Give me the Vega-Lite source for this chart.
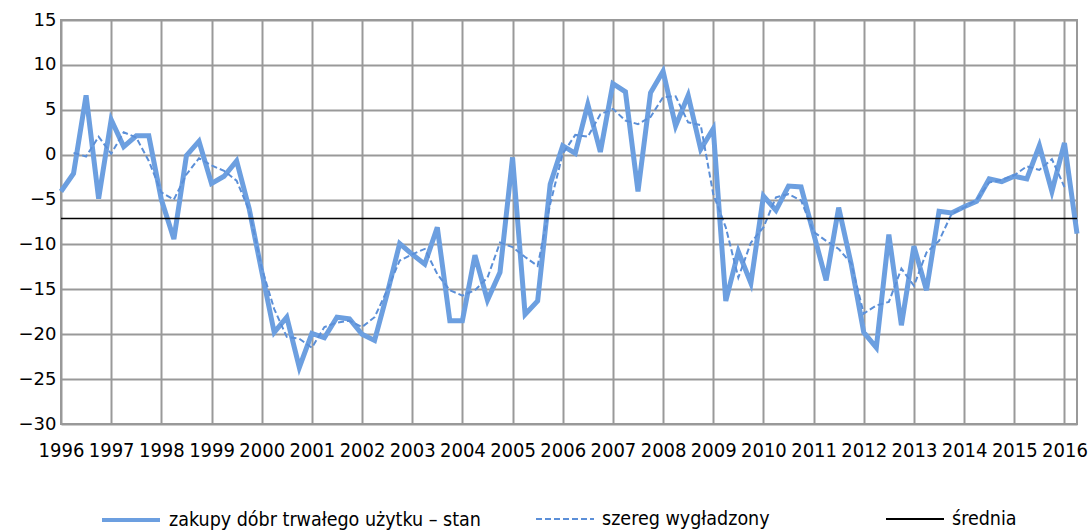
{
  "$schema": "https://vega.github.io/schema/vega-lite/v6.json",
  "autosize": {"type": "none"},
  "width": 1016,
  "height": 404,
  "padding": {"left": 61, "top": 20, "right": 15, "bottom": 108},
  "config": {
    "font": "DejaVu Sans",
    "view": {"stroke": "#999999", "strokeWidth": 2},
    "axis": {"labelFont": "DejaVu Sans", "labelFontSize": 18, "labelColor": "#000000", "ticks": false, "domain": false, "gridColor": "#999999", "gridWidth": 2, "gridOpacity": 1, "title": null},
    "legend": {"title": null, "orient": "none", "direction": "horizontal", "symbolType": "stroke", "symbolSize": 3364, "labelFont": "DejaVu Sans Condensed", "labelFontSize": 19.5, "labelColor": "#000000", "labelLimit": 500, "labelOffset": 7, "legendY": 469, "padding": 0}
  },
  "resolve": {"scale": {"color": "independent"}, "legend": {"color": "independent"}},
  "datasets": {
    "main": [
      {"s": "zakupy dóbr trwałego użytku – stan", "t": 1996.0, "v": -4.1},
      {"s": "zakupy dóbr trwałego użytku – stan", "t": 1996.25, "v": -2.1},
      {"s": "zakupy dóbr trwałego użytku – stan", "t": 1996.5, "v": 6.6},
      {"s": "zakupy dóbr trwałego użytku – stan", "t": 1996.75, "v": -4.9},
      {"s": "zakupy dóbr trwałego użytku – stan", "t": 1997.0, "v": 3.9},
      {"s": "zakupy dóbr trwałego użytku – stan", "t": 1997.25, "v": 0.9},
      {"s": "zakupy dóbr trwałego użytku – stan", "t": 1997.5, "v": 2.1},
      {"s": "zakupy dóbr trwałego użytku – stan", "t": 1997.75, "v": 2.1},
      {"s": "zakupy dóbr trwałego użytku – stan", "t": 1998.0, "v": -5.0},
      {"s": "zakupy dóbr trwałego użytku – stan", "t": 1998.25, "v": -9.4},
      {"s": "zakupy dóbr trwałego użytku – stan", "t": 1998.5, "v": -0.1},
      {"s": "zakupy dóbr trwałego użytku – stan", "t": 1998.75, "v": 1.5},
      {"s": "zakupy dóbr trwałego użytku – stan", "t": 1999.0, "v": -3.2},
      {"s": "zakupy dóbr trwałego użytku – stan", "t": 1999.25, "v": -2.4},
      {"s": "zakupy dóbr trwałego użytku – stan", "t": 1999.5, "v": -0.7},
      {"s": "zakupy dóbr trwałego użytku – stan", "t": 1999.75, "v": -6.0},
      {"s": "zakupy dóbr trwałego użytku – stan", "t": 2000.0, "v": -13.0},
      {"s": "zakupy dóbr trwałego użytku – stan", "t": 2000.25, "v": -19.8},
      {"s": "zakupy dóbr trwałego użytku – stan", "t": 2000.5, "v": -18.1},
      {"s": "zakupy dóbr trwałego użytku – stan", "t": 2000.75, "v": -23.7},
      {"s": "zakupy dóbr trwałego użytku – stan", "t": 2001.0, "v": -19.9},
      {"s": "zakupy dóbr trwałego użytku – stan", "t": 2001.25, "v": -20.4},
      {"s": "zakupy dóbr trwałego użytku – stan", "t": 2001.5, "v": -18.1},
      {"s": "zakupy dóbr trwałego użytku – stan", "t": 2001.75, "v": -18.3},
      {"s": "zakupy dóbr trwałego użytku – stan", "t": 2002.0, "v": -20.0},
      {"s": "zakupy dóbr trwałego użytku – stan", "t": 2002.25, "v": -20.7},
      {"s": "zakupy dóbr trwałego użytku – stan", "t": 2002.5, "v": -15.5},
      {"s": "zakupy dóbr trwałego użytku – stan", "t": 2002.75, "v": -9.9},
      {"s": "zakupy dóbr trwałego użytku – stan", "t": 2003.0, "v": -11.1},
      {"s": "zakupy dóbr trwałego użytku – stan", "t": 2003.25, "v": -12.2},
      {"s": "zakupy dóbr trwałego użytku – stan", "t": 2003.5, "v": -8.1},
      {"s": "zakupy dóbr trwałego użytku – stan", "t": 2003.75, "v": -18.5},
      {"s": "zakupy dóbr trwałego użytku – stan", "t": 2004.0, "v": -18.5},
      {"s": "zakupy dóbr trwałego użytku – stan", "t": 2004.25, "v": -11.2},
      {"s": "zakupy dóbr trwałego użytku – stan", "t": 2004.5, "v": -16.2},
      {"s": "zakupy dóbr trwałego użytku – stan", "t": 2004.75, "v": -13.1},
      {"s": "zakupy dóbr trwałego użytku – stan", "t": 2005.0, "v": -0.3},
      {"s": "zakupy dóbr trwałego użytku – stan", "t": 2005.25, "v": -17.8},
      {"s": "zakupy dóbr trwałego użytku – stan", "t": 2005.5, "v": -16.3},
      {"s": "zakupy dóbr trwałego użytku – stan", "t": 2005.75, "v": -3.3},
      {"s": "zakupy dóbr trwałego użytku – stan", "t": 2006.0, "v": 1.0},
      {"s": "zakupy dóbr trwałego użytku – stan", "t": 2006.25, "v": 0.15},
      {"s": "zakupy dóbr trwałego użytku – stan", "t": 2006.5, "v": 5.6},
      {"s": "zakupy dóbr trwałego użytku – stan", "t": 2006.75, "v": 0.3},
      {"s": "zakupy dóbr trwałego użytku – stan", "t": 2007.0, "v": 7.9},
      {"s": "zakupy dóbr trwałego użytku – stan", "t": 2007.25, "v": 7.0},
      {"s": "zakupy dóbr trwałego użytku – stan", "t": 2007.5, "v": -4.1},
      {"s": "zakupy dóbr trwałego użytku – stan", "t": 2007.75, "v": 6.9},
      {"s": "zakupy dóbr trwałego użytku – stan", "t": 2008.0, "v": 9.3},
      {"s": "zakupy dóbr trwałego użytku – stan", "t": 2008.25, "v": 3.2},
      {"s": "zakupy dóbr trwałego użytku – stan", "t": 2008.5, "v": 6.6},
      {"s": "zakupy dóbr trwałego użytku – stan", "t": 2008.75, "v": 0.6},
      {"s": "zakupy dóbr trwałego użytku – stan", "t": 2009.0, "v": 2.9},
      {"s": "zakupy dóbr trwałego użytku – stan", "t": 2009.25, "v": -16.3},
      {"s": "zakupy dóbr trwałego użytku – stan", "t": 2009.5, "v": -10.8},
      {"s": "zakupy dóbr trwałego użytku – stan", "t": 2009.75, "v": -14.3},
      {"s": "zakupy dóbr trwałego użytku – stan", "t": 2010.0, "v": -4.6},
      {"s": "zakupy dóbr trwałego użytku – stan", "t": 2010.25, "v": -6.2},
      {"s": "zakupy dóbr trwałego użytku – stan", "t": 2010.5, "v": -3.5},
      {"s": "zakupy dóbr trwałego użytku – stan", "t": 2010.75, "v": -3.6},
      {"s": "zakupy dóbr trwałego użytku – stan", "t": 2011.0, "v": -8.8},
      {"s": "zakupy dóbr trwałego użytku – stan", "t": 2011.25, "v": -14.0},
      {"s": "zakupy dóbr trwałego użytku – stan", "t": 2011.5, "v": -5.9},
      {"s": "zakupy dóbr trwałego użytku – stan", "t": 2011.75, "v": -12.2},
      {"s": "zakupy dóbr trwałego użytku – stan", "t": 2012.0, "v": -19.8},
      {"s": "zakupy dóbr trwałego użytku – stan", "t": 2012.25, "v": -21.5},
      {"s": "zakupy dóbr trwałego użytku – stan", "t": 2012.5, "v": -8.9},
      {"s": "zakupy dóbr trwałego użytku – stan", "t": 2012.75, "v": -19.0},
      {"s": "zakupy dóbr trwałego użytku – stan", "t": 2013.0, "v": -10.2},
      {"s": "zakupy dóbr trwałego użytku – stan", "t": 2013.25, "v": -15.1},
      {"s": "zakupy dóbr trwałego użytku – stan", "t": 2013.5, "v": -6.3},
      {"s": "zakupy dóbr trwałego użytku – stan", "t": 2013.75, "v": -6.5},
      {"s": "zakupy dóbr trwałego użytku – stan", "t": 2014.0, "v": -5.8},
      {"s": "zakupy dóbr trwałego użytku – stan", "t": 2014.25, "v": -5.2},
      {"s": "zakupy dóbr trwałego użytku – stan", "t": 2014.5, "v": -2.7},
      {"s": "zakupy dóbr trwałego użytku – stan", "t": 2014.75, "v": -3.0},
      {"s": "zakupy dóbr trwałego użytku – stan", "t": 2015.0, "v": -2.4},
      {"s": "zakupy dóbr trwałego użytku – stan", "t": 2015.25, "v": -2.7},
      {"s": "zakupy dóbr trwałego użytku – stan", "t": 2015.5, "v": 1.0},
      {"s": "zakupy dóbr trwałego użytku – stan", "t": 2015.75, "v": -4.1},
      {"s": "zakupy dóbr trwałego użytku – stan", "t": 2016.0, "v": 1.3},
      {"s": "zakupy dóbr trwałego użytku – stan", "t": 2016.25, "v": -8.8}
    ],
    "smooth": [
      {"s": "szereg wygładzony", "t": 1996.25, "v": 0.2},
      {"s": "szereg wygładzony", "t": 1996.5, "v": -0.2},
      {"s": "szereg wygładzony", "t": 1996.75, "v": 2.0},
      {"s": "szereg wygładzony", "t": 1997.0, "v": 0.1},
      {"s": "szereg wygładzony", "t": 1997.25, "v": 2.5},
      {"s": "szereg wygładzony", "t": 1997.5, "v": 1.9},
      {"s": "szereg wygładzony", "t": 1997.75, "v": -0.7},
      {"s": "szereg wygładzony", "t": 1998.0, "v": -4.2},
      {"s": "szereg wygładzony", "t": 1998.25, "v": -5.0},
      {"s": "szereg wygładzony", "t": 1998.5, "v": -2.2},
      {"s": "szereg wygładzony", "t": 1998.75, "v": -0.4},
      {"s": "szereg wygładzony", "t": 1999.0, "v": -1.2},
      {"s": "szereg wygładzony", "t": 1999.25, "v": -1.8},
      {"s": "szereg wygładzony", "t": 1999.5, "v": -2.9},
      {"s": "szereg wygładzony", "t": 1999.75, "v": -6.2},
      {"s": "szereg wygładzony", "t": 2000.0, "v": -12.6},
      {"s": "szereg wygładzony", "t": 2000.25, "v": -17.2},
      {"s": "szereg wygładzony", "t": 2000.5, "v": -20.3},
      {"s": "szereg wygładzony", "t": 2000.75, "v": -20.5},
      {"s": "szereg wygładzony", "t": 2001.0, "v": -21.5},
      {"s": "szereg wygładzony", "t": 2001.25, "v": -19.2},
      {"s": "szereg wygładzony", "t": 2001.5, "v": -18.7},
      {"s": "szereg wygładzony", "t": 2001.75, "v": -18.5},
      {"s": "szereg wygładzony", "t": 2002.0, "v": -19.2},
      {"s": "szereg wygładzony", "t": 2002.25, "v": -18.1},
      {"s": "szereg wygładzony", "t": 2002.5, "v": -15.1},
      {"s": "szereg wygładzony", "t": 2002.75, "v": -11.8},
      {"s": "szereg wygładzony", "t": 2003.0, "v": -11.1},
      {"s": "szereg wygładzony", "t": 2003.25, "v": -10.5},
      {"s": "szereg wygładzony", "t": 2003.5, "v": -13.3},
      {"s": "szereg wygładzony", "t": 2003.75, "v": -15.1},
      {"s": "szereg wygładzony", "t": 2004.0, "v": -15.7},
      {"s": "szereg wygładzony", "t": 2004.25, "v": -15.1},
      {"s": "szereg wygładzony", "t": 2004.5, "v": -13.7},
      {"s": "szereg wygładzony", "t": 2004.75, "v": -9.8},
      {"s": "szereg wygładzony", "t": 2005.0, "v": -10.3},
      {"s": "szereg wygładzony", "t": 2005.25, "v": -11.4},
      {"s": "szereg wygładzony", "t": 2005.5, "v": -12.4},
      {"s": "szereg wygładzony", "t": 2005.75, "v": -5.5},
      {"s": "szereg wygładzony", "t": 2006.0, "v": 0.1},
      {"s": "szereg wygładzony", "t": 2006.25, "v": 2.2},
      {"s": "szereg wygładzony", "t": 2006.5, "v": 2.0},
      {"s": "szereg wygładzony", "t": 2006.75, "v": 4.5},
      {"s": "szereg wygładzony", "t": 2007.0, "v": 5.1},
      {"s": "szereg wygładzony", "t": 2007.25, "v": 3.8},
      {"s": "szereg wygładzony", "t": 2007.5, "v": 3.4},
      {"s": "szereg wygładzony", "t": 2007.75, "v": 4.2},
      {"s": "szereg wygładzony", "t": 2008.0, "v": 6.4},
      {"s": "szereg wygładzony", "t": 2008.25, "v": 6.5},
      {"s": "szereg wygładzony", "t": 2008.5, "v": 3.6},
      {"s": "szereg wygładzony", "t": 2008.75, "v": 3.3},
      {"s": "szereg wygładzony", "t": 2009.0, "v": -4.4},
      {"s": "szereg wygładzony", "t": 2009.25, "v": -8.1},
      {"s": "szereg wygładzony", "t": 2009.5, "v": -13.7},
      {"s": "szereg wygładzony", "t": 2009.75, "v": -9.8},
      {"s": "szereg wygładzony", "t": 2010.0, "v": -8.1},
      {"s": "szereg wygładzony", "t": 2010.25, "v": -4.75},
      {"s": "szereg wygładzony", "t": 2010.5, "v": -4.4},
      {"s": "szereg wygładzony", "t": 2010.75, "v": -5.1},
      {"s": "szereg wygładzony", "t": 2011.0, "v": -8.6},
      {"s": "szereg wygładzony", "t": 2011.25, "v": -9.6},
      {"s": "szereg wygładzony", "t": 2011.5, "v": -10.5},
      {"s": "szereg wygładzony", "t": 2011.75, "v": -12.1},
      {"s": "szereg wygładzony", "t": 2012.0, "v": -17.7},
      {"s": "szereg wygładzony", "t": 2012.25, "v": -16.8},
      {"s": "szereg wygładzony", "t": 2012.5, "v": -16.4},
      {"s": "szereg wygładzony", "t": 2012.75, "v": -12.7},
      {"s": "szereg wygładzony", "t": 2013.0, "v": -14.6},
      {"s": "szereg wygładzony", "t": 2013.25, "v": -10.9},
      {"s": "szereg wygładzony", "t": 2013.5, "v": -9.6},
      {"s": "szereg wygładzony", "t": 2013.75, "v": -6.6},
      {"s": "szereg wygładzony", "t": 2014.0, "v": -5.9},
      {"s": "szereg wygładzony", "t": 2014.25, "v": -5.0},
      {"s": "szereg wygładzony", "t": 2014.5, "v": -3.1},
      {"s": "szereg wygładzony", "t": 2014.75, "v": -2.8},
      {"s": "szereg wygładzony", "t": 2015.0, "v": -2.3},
      {"s": "szereg wygładzony", "t": 2015.25, "v": -1.3},
      {"s": "szereg wygładzony", "t": 2015.5, "v": -1.7},
      {"s": "szereg wygładzony", "t": 2015.75, "v": -0.5},
      {"s": "szereg wygładzony", "t": 2016.0, "v": -3.6}
    ],
    "mean": [
      {"s": "średnia", "v": -7.1}
    ]
  },
  "layer": [
    {
      "data": {"name": "main"},
      "mark": {"type": "line", "strokeWidth": 5, "strokeJoin": "miter", "strokeCap": "butt"},
      "encoding": {
        "x": {
          "field": "t", "type": "quantitative",
          "scale": {"domain": [1996, 2016.25], "nice": false, "zero": false},
          "axis": {"values": [1996, 1997, 1998, 1999, 2000, 2001, 2002, 2003, 2004, 2005, 2006, 2007, 2008, 2009, 2010, 2011, 2012, 2013, 2014, 2015, 2016], "format": "d", "labelFont": "DejaVu Sans Condensed", "labelFontSize": 20, "labelPadding": 16, "labelOverlap": false, "labelFlush": false}
        },
        "y": {
          "field": "v", "type": "quantitative",
          "scale": {"domain": [-30, 15], "nice": false, "zero": false},
          "axis": {"values": [-30, -25, -20, -15, -10, -5, 0, 5, 10, 15], "labelPadding": 5, "labelOverlap": false}
        },
        "color": {
          "field": "s", "type": "nominal",
          "scale": {"range": ["#6c9fe0"]},
          "legend": {"legendX": 39, "symbolStrokeWidth": 4}
        }
      }
    },
    {
      "data": {"name": "smooth"},
      "mark": {"type": "line", "strokeWidth": 2, "color": "#5b8fd8"},
      "encoding": {
        "x": {"field": "t", "type": "quantitative"},
        "y": {"field": "v", "type": "quantitative"},
        "strokeDash": {
          "field": "s", "type": "nominal",
          "scale": {"range": [[6, 3]]},
          "legend": {"legendX": 474, "symbolStrokeColor": "#5b8fd8", "symbolStrokeWidth": 2}
        }
      }
    },
    {
      "data": {"name": "mean"},
      "mark": {"type": "rule", "strokeWidth": 1.5},
      "encoding": {
        "y": {"field": "v", "type": "quantitative"},
        "color": {
          "field": "s", "type": "nominal",
          "scale": {"range": ["#000000"]},
          "legend": {"legendX": 824, "symbolStrokeWidth": 2}
        }
      }
    }
  ]
}
